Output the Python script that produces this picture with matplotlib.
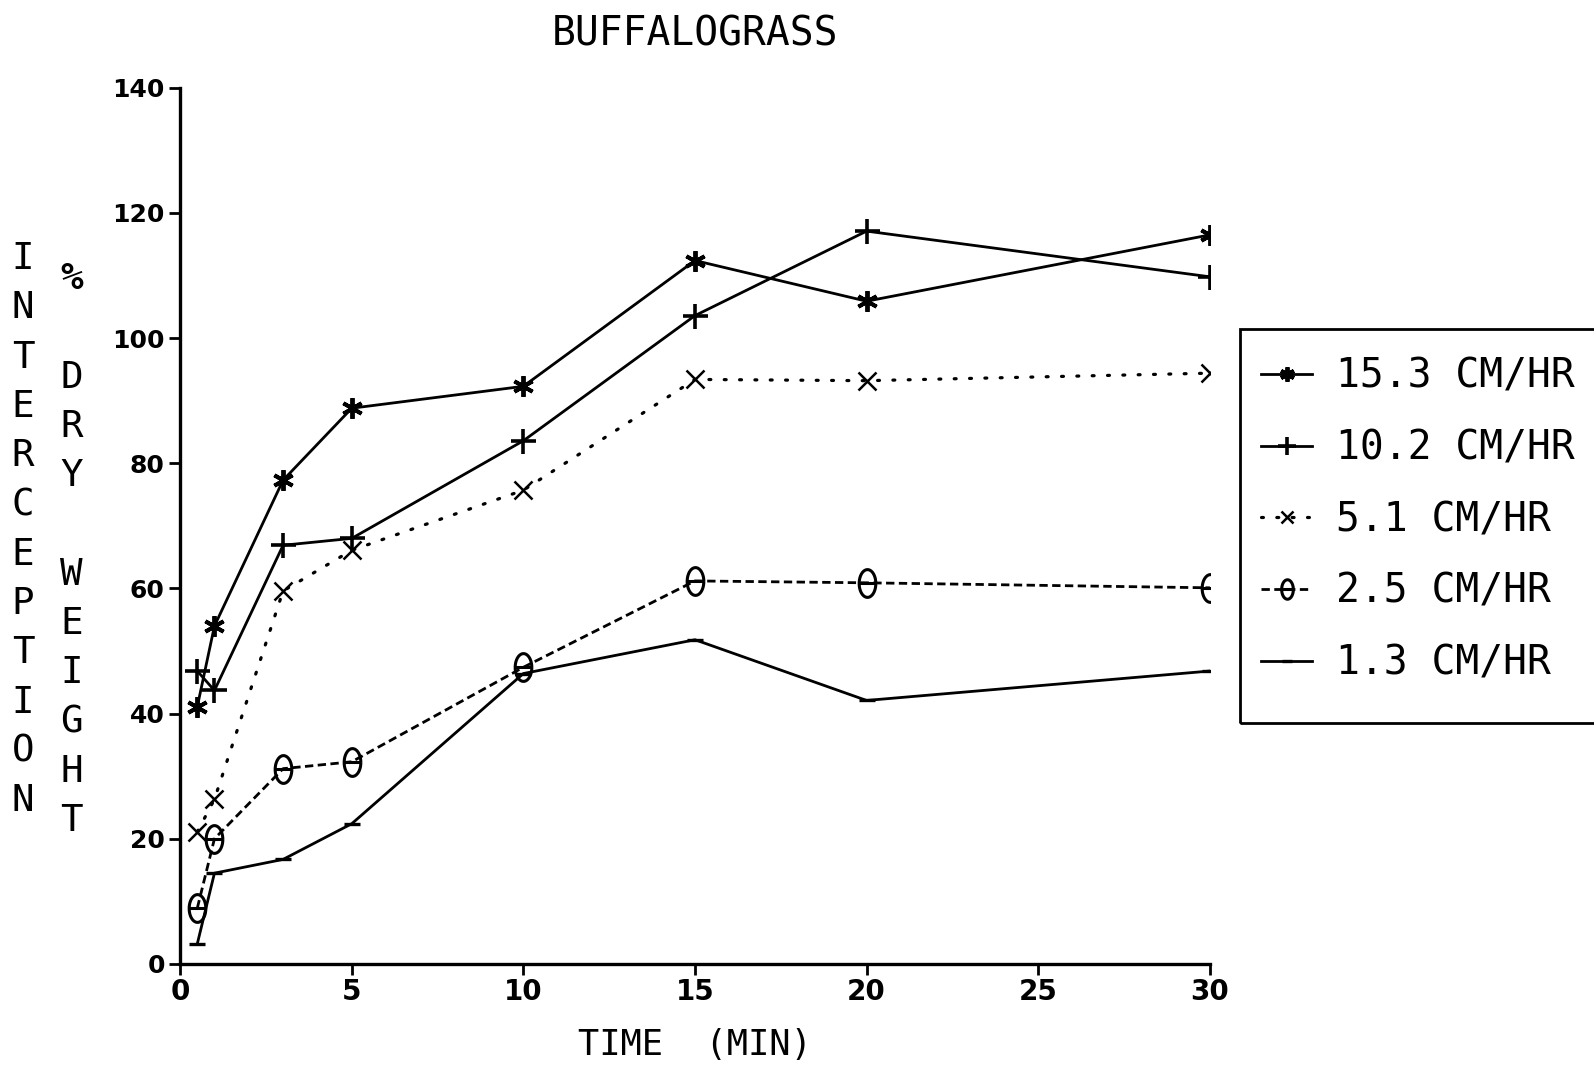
import numpy as np
import matplotlib
matplotlib.use('Agg')
import matplotlib.pyplot as plt
from matplotlib.path import Path
from matplotlib.patches import Rectangle

# data
time = [0.5, 1, 3, 5, 10, 15, 20, 30]
r153 = [41.1, 54.0, 77.3, 88.8, 92.3, 112.4, 105.9, 116.5]
r102 = [46.8, 43.7, 66.9, 68.0, 83.6, 103.6, 117.1, 109.8]
r51 = [21.1, 26.3, 59.6, 66.1, 75.7, 93.4, 93.2, 94.4]
r25 = [8.9, 20.0, 31.2, 32.3, 47.4, 61.2, 60.9, 60.1]
r13 = [3.2, 14.5, 16.7, 22.4, 46.4, 51.8, 42.1, 46.8]
labels = ['15.3 CM/HR', '10.2 CM/HR', '5.1 CM/HR', '2.5 CM/HR', '1.3 CM/HR']
xticks = [0, 5, 10, 15, 20, 25, 30]
yticks = [0, 20, 40, 60, 80, 100, 120, 140]

# oval with a bar, like the plotter's "0" symbol
t = np.linspace(0, 2 * np.pi, 40)
verts = list(zip(0.3 * np.cos(t), 0.5 * np.sin(t))) + [(-0.3, 0), (0.3, 0)]
codes = [Path.MOVETO] + [Path.LINETO] * 39 + [Path.MOVETO, Path.LINETO]
oval = Path(verts, codes)

mono = 'DejaVu Sans Mono'
W, H = 1594, 1071

fig = plt.figure(figsize=(15.94, 10.71), dpi=100)
ax = fig.add_axes([0.113, 0.100, 0.646, 0.818])

lw = 2.0
ax.plot(time, r153, color='k', lw=lw, marker=(6, 2, 0), ms=15, mew=2.8, label=labels[0])
ax.plot(time, r102, color='k', lw=lw, marker='+', ms=18, mew=2.6, label=labels[1])
ax.plot(time, r51, color='k', lw=2.3, ls=(0, (0.6, 4.2)), dash_capstyle='round',
        marker='x', ms=13, mew=1.8, label=labels[2])
ax.plot(time, r25, color='k', lw=lw, ls=(0, (3, 1.6)), marker=oval, ms=20, mew=2.2,
        mfc='none', label=labels[3])
ax.plot(time, r13, color='k', lw=lw, marker='_', ms=11, mew=2.4, label=labels[4])

ax.set_xlim(0, 30)
ax.set_ylim(0, 140)
ax.set_xticks(xticks)
ax.set_yticks(yticks)
ax.spines['top'].set_visible(False)
ax.spines['right'].set_visible(False)
ax.spines['left'].set_linewidth(2.4)
ax.spines['bottom'].set_linewidth(2.4)
ax.tick_params(axis='y', length=8, width=2, pad=3, labelsize=18)
ax.tick_params(axis='x', length=8, width=2, pad=2, labelsize=20)
for lab in ax.get_yticklabels() + ax.get_xticklabels():
    lab.set_fontweight('bold')

fig.text(0.436, 0.968, 'BUFFALOGRASS', family=mono, fontsize=28.5, ha='center', va='center')
fig.text(0.436, 0.024, 'TIME  (MIN)', family=mono, fontsize=25.5, ha='center', va='center')

# stacked vertical y label
col1 = 'INTERCEPTION'
col2 = '% DRY WEIGHT'
for i, ch in enumerate(col1):
    fig.text(0.0145, 1 - (259 + i * 49.3) / H, ch, family=mono, fontsize=27,
             ha='center', va='center')
for i, ch in enumerate(col2):
    fig.text(0.045, 1 - (279 + i * 49.3) / H, ch, family=mono, fontsize=27,
             ha='center', va='center', fontweight='bold' if ch == '%' else 'normal')

# legend box runs off the right edge, as in the original
fig.add_artist(Rectangle((1240 / W, 1 - 723 / H), 400 / W, (723 - 329) / H,
                         transform=fig.transFigure, fill=False, ec='k', lw=2))
leg = fig.legend(loc='upper left', bbox_to_anchor=(1261 / W, 1 - 357 / H),
                 prop={'family': mono, 'size': 28.5}, frameon=False,
                 handlelength=1.3, handletextpad=0.6, labelspacing=0.8,
                 borderpad=0, markerscale=0.7, borderaxespad=0)

fig.savefig('out.png', dpi=100)
